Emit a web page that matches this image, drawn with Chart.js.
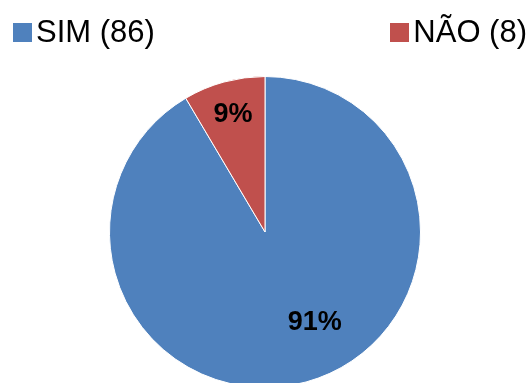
<!DOCTYPE html>
<html lang="pt">
<head>
<meta charset="utf-8">
<title>SIM / NÃO</title>
<script src="https://cdn.jsdelivr.net/npm/chart.js@4/dist/chart.umd.min.js"></script>
<style>
  html, body { margin: 0; padding: 0; background: #fff; overflow: hidden; }
  body { width: 530px; height: 383px; position: relative; font-family: "Liberation Sans", Arial, sans-serif; }
  #legenda {
    position: absolute; top: 14px; left: 13px; right: 3px;
    display: flex; justify-content: space-between; align-items: center;
    font-size: 31px; line-height: 36px; color: #000; z-index: 2;
  }
  #legenda .item { display: flex; align-items: center; }
  #legenda .box { width: 19px; height: 19px; margin-right: 4px; }
  #wrap { position: absolute; top: 0; left: 0; width: 530px; height: 388px; }
</style>
</head>
<body>
<div id="legenda"></div>
<div id="wrap"><canvas id="grafico"></canvas></div>
<script>
// Dados
const RESPOSTAS = ['SIM', 'NÃO'];
const CONTAGEM  = [86, 8];
const CORES     = ['#4F81BD', '#C0504D'];

// posição dos rótulos: desvio angular (graus) e fração do raio
const POS_ROTULO = [
  { desvio: -13.5, raio: 0.665 },
  { desvio: 0,     raio: 0.78 },
];

const total = CONTAGEM.reduce((a, b) => a + b, 0);

// Legenda com os rótulos e contagens
document.getElementById('legenda').innerHTML = RESPOSTAS.map((r, i) =>
  `<span class="item"><span class="box" style="background:${CORES[i]}"></span>${r} (${CONTAGEM[i]})</span>`
).join('');

// Percentuais dentro das fatias
const rotulosPct = {
  id: 'rotulosPct',
  afterDatasetsDraw(chart) {
    const ctx = chart.ctx;
    const arcs = chart.getDatasetMeta(0).data;
    ctx.save();
    ctx.fillStyle = '#000';
    ctx.font = 'bold 27px "Liberation Sans", Arial, sans-serif';
    ctx.textAlign = 'center';
    ctx.textBaseline = 'middle';
    arcs.forEach((arc, i) => {
      const p = arc.getProps(['x', 'y', 'startAngle', 'endAngle', 'outerRadius'], true);
      const pos = POS_ROTULO[i];
      const ang = (p.startAngle + p.endAngle) / 2 + pos.desvio * Math.PI / 180;
      const r = p.outerRadius * pos.raio;
      const pct = Math.round(CONTAGEM[i] / total * 100) + '%';
      ctx.fillText(pct, p.x + Math.cos(ang) * r, p.y + Math.sin(ang) * r);
    });
    ctx.restore();
  }
};

new Chart(document.getElementById('grafico'), {
  type: 'pie',
  data: {
    labels: RESPOSTAS,
    datasets: [{
      data: CONTAGEM,
      backgroundColor: CORES,
      borderColor: '#fff',
      borderWidth: 1,
    }],
  },
  options: {
    responsive: true,
    maintainAspectRatio: false,
    animation: false,
    layout: { padding: { top: 76 } },
    plugins: {
      legend: { display: false },
      tooltip: { enabled: false },
    },
  },
  plugins: [rotulosPct],
});
</script>
</body>
</html>
